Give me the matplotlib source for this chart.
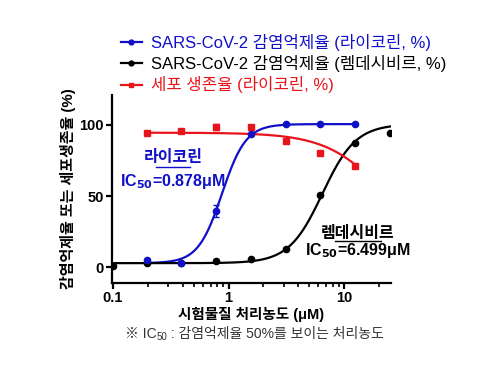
import numpy as np
import matplotlib.pyplot as plt
from matplotlib.lines import Line2D

plt.rcParams['font.family'] = ['Liberation Sans', 'Noto Sans CJK KR']

lyc_x = [0.195, 0.39, 0.78, 1.56, 3.125, 6.25, 12.5]
lyc_y = [5.4, 3.0, 39.6, 93.4, 100.5, 100.5, 100.5]
lyc_err = [0, 0, 4.5, 0, 0, 0, 0]

rem_x = [0.1, 0.195, 0.39, 0.78, 1.56, 3.125, 6.25, 12.5, 25]
rem_y = [1.0, 2.8, 3.2, 4.2, 5.6, 13.2, 50.7, 87.0, 94.0]

via_x = [0.195, 0.39, 0.78, 1.56, 3.125, 6.25, 12.5]
via_y = [94.2, 96.0, 98.5, 98.8, 88.7, 80.0, 71.1]
via_err = [0, 0, 2.0, 0, 0, 0, 0]

# fitted curve parameters (bottom, top, ec50, hill)
lyc_fit = (3.0, 100.5, 0.878, 4.2)
rem_fit = (3.0, 100.5, 6.499, 3.0)
via_fit = (0.0, 94.5, 25.2, -1.66)

blue = '#1010c8'
red = '#e8141c'
grey = '#333333'


def logistic(x, p):
    b, t, c, h = p
    return b + (t - b) / (1 + (c / x) ** h)


fig = plt.figure(figsize=(5, 3.75), dpi=100)
ax = fig.add_axes([0.224, 0.245, 0.558, 0.502])

xs = np.logspace(np.log10(0.195), np.log10(12.5), 300)
xr = np.logspace(np.log10(0.1), np.log10(25), 300)

ax.plot(xs, logistic(xs, lyc_fit), color=blue, lw=1.6)
ax.plot(xr, logistic(xr, rem_fit), color='black', lw=1.6)
ax.plot(xs, logistic(xs, via_fit), color=red, lw=1.6)

ax.errorbar(via_x, via_y, yerr=via_err, fmt='s', color=red, ms=5, capsize=2, lw=1)
ax.errorbar(rem_x, rem_y, fmt='o', color='black', ms=4.5)
ax.errorbar(lyc_x, lyc_y, yerr=lyc_err, fmt='o', color=blue, ms=4.5, capsize=2, lw=1)

ax.set_xscale('log')
ax.set_xlim(0.098, 25.5)
ax.set_ylim(-11, 121)
ax.set_yticks([0, 50, 100])
ax.set_xticks([0.1, 1, 10])
ax.set_xticklabels(['0.1', '1', '10'])
ax.spines['top'].set_visible(False)
ax.spines['right'].set_visible(False)
for s in ['left', 'bottom']:
    ax.spines[s].set_linewidth(1.6)
ax.tick_params(axis='both', which='major', width=1.6, length=4, pad=2, labelsize=10.5)
ax.tick_params(axis='x', which='minor', width=1.2, length=3)
for lab in ax.get_xticklabels() + ax.get_yticklabels():
    lab.set_fontweight('bold')

ax.set_xlabel('시험물질 처리농도 (μM)', fontsize=10.5, fontweight='bold', labelpad=1)
ax.set_ylabel('감염억제율 또는 세포생존율 (%)', fontsize=10.8, fontweight='bold', labelpad=2)

# annotations
ax.text(0.33, 77, '라이코린', color=blue, fontsize=11.5, fontweight='bold', ha='center', va='center')
ax.text(0.33, 60, 'IC$_{\\mathbf{50}}$=0.878μM', color=blue, fontsize=11.5, fontweight='bold', ha='center', va='center')
ax.plot([0.235, 0.465], [70.5, 70.5], color=blue, lw=1)
ax.text(13.2, 24, '렘데시비르', color='black', fontsize=11.5, fontweight='bold', ha='center', va='center')
ax.text(13.2, 12, 'IC$_{\\mathbf{50}}$=6.499μM', color='black', fontsize=11.5, fontweight='bold', ha='center', va='center')
ax.plot([8.3, 21.0], [18.3, 18.3], color='black', lw=1)

# legend
handles = [
    Line2D([], [], color=blue, marker='o', ms=3.5, lw=1.6),
    Line2D([], [], color='black', marker='o', ms=3.5, lw=1.6),
    Line2D([], [], color=red, marker='s', ms=3.5, lw=1.6),
]
labels = ['SARS-CoV-2 감염억제율 (라이코린, %)',
          'SARS-CoV-2 감염억제율 (렘데시비르, %)',
          '세포 생존율 (라이코린, %)']
leg = fig.legend(handles, labels, loc='upper left', bbox_to_anchor=(0.228, 0.927),
                 frameon=False, fontsize=12, handlelength=1.25, handletextpad=0.55,
                 labelspacing=0.25, borderaxespad=0)
for txt, c in zip(leg.get_texts(), [blue, 'black', red]):
    txt.set_color(c)

# footnote, built from pieces so the subscript and Korean both render
renderer = fig.canvas.get_renderer()
y0 = 0.11
parts = [('※ IC', 10, 0.0), ('50', 7, -0.008), (' : 감염억제율 50%를 보이는 처리농도', 10, 0.0)]
x = 0.25
for s, size, dy in parts:
    t = fig.text(x, y0 + dy, s, ha='left', va='center', fontsize=size, color=grey)
    bb = t.get_window_extent(renderer)
    x += bb.width / fig.bbox.width

fig.savefig('out.png', dpi=100)
